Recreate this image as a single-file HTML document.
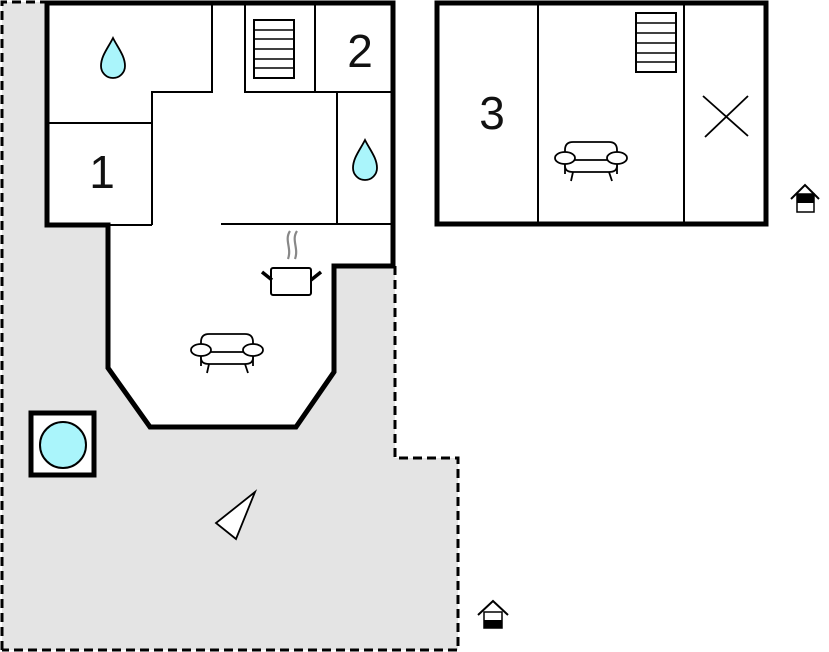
<!DOCTYPE html>
<html><head><style>html,body{margin:0;padding:0;background:#fff}svg{display:block}</style></head><body>
<svg width="829" height="652" viewBox="0 0 829 652" xmlns="http://www.w3.org/2000/svg">
<defs>
<g id="sofa" fill="#fff" stroke="#000" stroke-width="1.8">
<path d="M-26,16 L-26,-8 Q-26,-16 -18,-16 L18,-16 Q26,-16 26,-8 L26,16"/>
<path d="M-26,2 L-26,8 Q-26,14 -18,14 L18,14 Q26,14 26,8 L26,2"/>
<line x1="-18" y1="14" x2="-20" y2="23"/><line x1="18" y1="14" x2="21" y2="23"/>
<line x1="-18" y1="2" x2="18" y2="2"/>
<ellipse cx="-26" cy="0" rx="10" ry="6"/><ellipse cx="26" cy="0" rx="10" ry="6"/>
</g>
</defs>
<!-- terrace -->
<polygon points="2,2 45,2 45,650 2,650" fill="#e4e4e4"/>
<polygon points="2,225 395,225 395,458 458,458 458,650 2,650" fill="#e4e4e4"/>
<polyline points="2,650 2,2 45,2" fill="none" stroke="#000" stroke-width="3" stroke-dasharray="9,5"/>
<polyline points="395,266 395,458 458,458 458,650 2,650" fill="none" stroke="#000" stroke-width="3" stroke-dasharray="9,5"/>
<!-- house -->
<polygon points="47,3 393,3 393,266 334,266 334,372 296,427 150,427 108,368 108,225 47,225" fill="#fff" stroke="#000" stroke-width="5"/>
<g stroke="#000" stroke-width="2" fill="none">
<polyline points="212,3 212,92 152,92 152,225"/>
<line x1="47" y1="123" x2="152" y2="123"/>
<line x1="108" y1="225" x2="152" y2="225"/>
<polyline points="245,3 245,92 392,92"/>
<line x1="315" y1="3" x2="315" y2="92"/>
<line x1="337" y1="92" x2="337" y2="224"/>
<line x1="221" y1="224" x2="392" y2="224"/>
</g>
<rect x="254" y="20" width="40" height="58" fill="#fff" stroke="#000" stroke-width="2"/>
<g stroke="#000" stroke-width="1.5"><line x1="254" y1="30" x2="294" y2="30"/><line x1="254" y1="39" x2="294" y2="39"/><line x1="254" y1="49" x2="294" y2="49"/><line x1="254" y1="59" x2="294" y2="59"/><line x1="254" y1="68" x2="294" y2="68"/></g>
<g fill="#aaf5fb" stroke="#000" stroke-width="1.8">
<path d="M113,38 C108,48 101,56 101,66 A12,12 0 0 0 125,66 C125,56 118,48 113,38Z"/>
<path d="M365,140 C360,150 353,158 353,168 A12,12 0 0 0 377,168 C377,158 370,150 365,140Z"/>
</g>
<!-- pot -->
<g stroke="#888" stroke-width="2.2" fill="none"><path d="M290,231 C284,240 292,248 288,259"/><path d="M297,231 C291,240 299,248 295,259"/></g>
<rect x="271" y="268" width="40" height="27" rx="2" fill="#fff" stroke="#000" stroke-width="2"/>
<g stroke="#000" stroke-width="3.5"><line x1="262" y1="272" x2="272" y2="280"/><line x1="321" y1="272" x2="311" y2="280"/></g>
<use href="#sofa" x="227" y="350"/>
<!-- pool -->
<rect x="31" y="413" width="63" height="62" fill="#fff" stroke="#000" stroke-width="5"/>
<circle cx="63" cy="445" r="23" fill="#aaf5fb" stroke="#000" stroke-width="2"/>
<polygon points="255,492 216,523 236,539" fill="#fff" stroke="#000" stroke-width="1.8"/>
<!-- second building -->
<rect x="437" y="3" width="329" height="221" fill="#fff" stroke="#000" stroke-width="5"/>
<g stroke="#000" stroke-width="2"><line x1="538" y1="3" x2="538" y2="224"/><line x1="684" y1="3" x2="684" y2="224"/></g>
<rect x="636" y="13" width="40" height="59" fill="#fff" stroke="#000" stroke-width="2"/>
<g stroke="#000" stroke-width="1.5"><line x1="636" y1="23" x2="676" y2="23"/><line x1="636" y1="33" x2="676" y2="33"/><line x1="636" y1="43" x2="676" y2="43"/><line x1="636" y1="53" x2="676" y2="53"/><line x1="636" y1="62" x2="676" y2="62"/></g>
<g stroke="#000" stroke-width="1.8"><line x1="703" y1="96" x2="748" y2="136"/><line x1="748" y1="96" x2="705" y2="137"/></g>
<use href="#sofa" x="591" y="158"/>
<g font-family="Liberation Sans, sans-serif" font-size="46" fill="#111" text-anchor="middle">
<text x="360" y="67">2</text><text x="102" y="188">1</text><text x="492" y="129">3</text>
</g>
<!-- house icons -->
<g stroke="#000" stroke-width="2" fill="none">
<polyline points="478,615 493,601 508,615"/>
<polyline points="791,199 805,185 819,199"/>
</g>
<rect x="484" y="612" width="18" height="16" fill="#fff" stroke="#000" stroke-width="1.5"/>
<rect x="484" y="620" width="18" height="8" fill="#000"/>
<rect x="797" y="194" width="17" height="18" fill="#fff" stroke="#000" stroke-width="1.5"/>
<rect x="797" y="194" width="17" height="9" fill="#000"/>
</svg>
</body></html>
